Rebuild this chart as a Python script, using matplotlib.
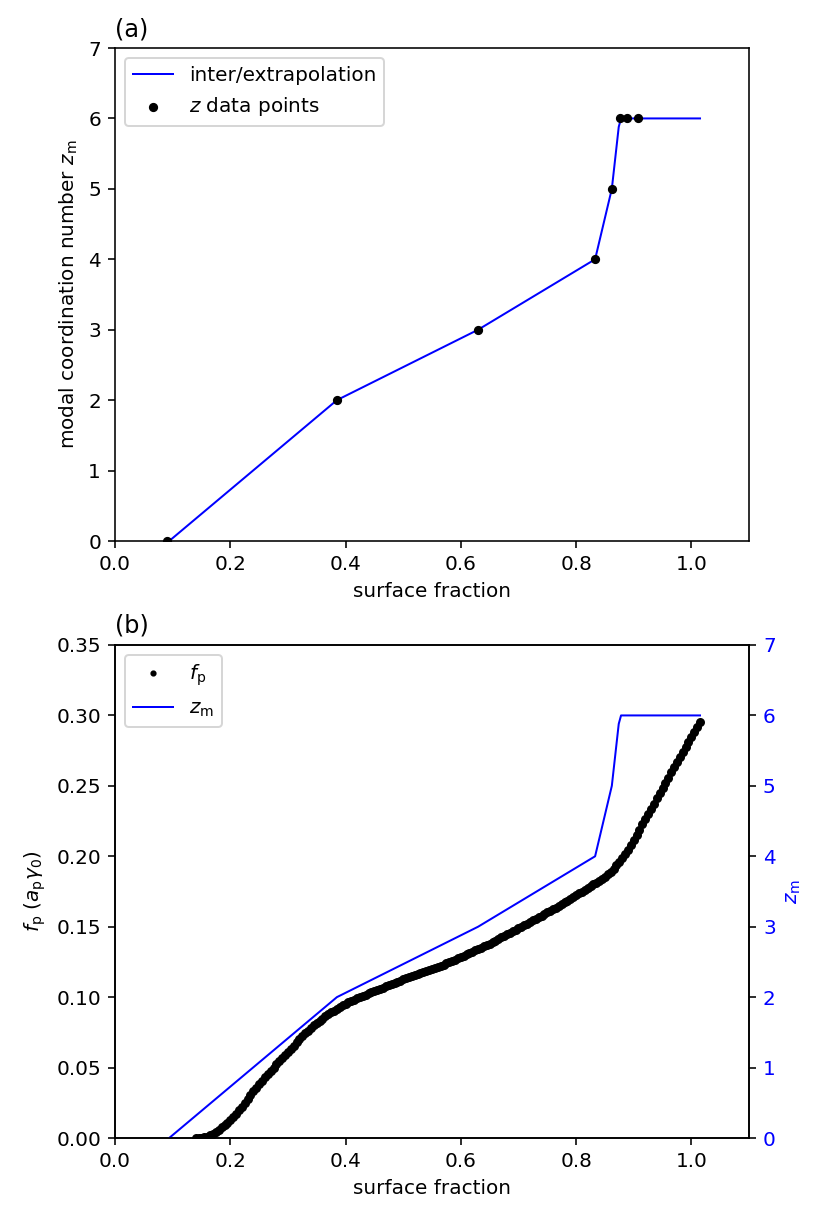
import numpy as np
import matplotlib
matplotlib.use("Agg")
import matplotlib.pyplot as plt

# ---- data ----
# modal coordination number data points (panel a)
z_points_x = [0.090, 0.385, 0.630, 0.833, 0.862, 0.876, 0.889, 0.907]
z_points_y = [0, 2, 3, 4, 5, 6, 6, 6]

# inter/extrapolation line vertices
zline_x = [0.094, 0.385, 0.630, 0.833, 0.862, 0.874, 0.878, 1.015]
zline_y = [0.0, 2.0, 3.0, 4.0, 5.0, 5.88, 6.0, 6.0]

# f_p values sampled from 0.14 to 1.015 in steps of 0.005
fp_start, fp_end = 0.14, 1.015
fp_values = [
    0.0000, 0.0000, 0.0001, 0.0004, 0.0010, 0.0019, 0.0031, 0.0046, 0.0060, 0.0075,
    0.0091, 0.0109, 0.0128, 0.0150, 0.0173, 0.0197, 0.0222, 0.0249, 0.0277, 0.0305,
    0.0332, 0.0357, 0.0382, 0.0406, 0.0430, 0.0454, 0.0477, 0.0500, 0.0522, 0.0545,
    0.0567, 0.0589, 0.0611, 0.0634, 0.0656, 0.0678, 0.0700, 0.0722, 0.0742, 0.0762,
    0.0781, 0.0799, 0.0816, 0.0832, 0.0848, 0.0863, 0.0877, 0.0891, 0.0905, 0.0918,
    0.0930, 0.0941, 0.0952, 0.0962, 0.0972, 0.0982, 0.0991, 0.1000, 0.1009, 0.1018,
    0.1027, 0.1035, 0.1044, 0.1052, 0.1060, 0.1068, 0.1077, 0.1085, 0.1093, 0.1101,
    0.1109, 0.1118, 0.1126, 0.1134, 0.1142, 0.1149, 0.1157, 0.1164, 0.1172, 0.1179,
    0.1186, 0.1193, 0.1200, 0.1207, 0.1215, 0.1223, 0.1231, 0.1239, 0.1247, 0.1256,
    0.1265, 0.1275, 0.1284, 0.1294, 0.1303, 0.1313, 0.1322, 0.1332, 0.1341, 0.1351,
    0.1361, 0.1370, 0.1380, 0.1391, 0.1402, 0.1413, 0.1424, 0.1435, 0.1446, 0.1457,
    0.1467, 0.1478, 0.1489, 0.1500, 0.1511, 0.1522, 0.1533, 0.1545, 0.1556, 0.1567,
    0.1579, 0.1590, 0.1602, 0.1613, 0.1625, 0.1636, 0.1648, 0.1660, 0.1672, 0.1685,
    0.1697, 0.1710, 0.1723, 0.1736, 0.1749, 0.1762, 0.1774, 0.1787, 0.1800, 0.1813,
    0.1826, 0.1840, 0.1855, 0.1872, 0.1891, 0.1912, 0.1936, 0.1961, 0.1988, 0.2017,
    0.2048, 0.2081, 0.2115, 0.2152, 0.2189, 0.2226, 0.2263, 0.2300, 0.2337, 0.2374,
    0.2411, 0.2448, 0.2485, 0.2522, 0.2559, 0.2595, 0.2631, 0.2667, 0.2703, 0.2739,
    0.2775, 0.2811, 0.2847, 0.2883, 0.2919, 0.2955,
]
fp_x = np.linspace(fp_start, fp_end, len(fp_values))

W, H, DPI = 822, 1217, 144
fig = plt.figure(figsize=(W / DPI, H / DPI), dpi=DPI)

# ---- panel (a) ----
ax1 = fig.add_axes([115 / W, 1 - 541 / H, 634 / W, 493 / H])
ax1.plot(zline_x, zline_y, color="blue", lw=1, label="inter/extrapolation")
ax1.scatter(z_points_x, z_points_y, s=13, color="black", zorder=3,
            label="$z$ data points")
ax1.set_xlim(0, 1.1)
ax1.set_ylim(0, 7)
ax1.set_xlabel("surface fraction")
ax1.set_ylabel("modal coordination number $z_{\\rm m}$")
ax1.set_title("(a)", loc="left")
ax1.legend(loc="upper left")

# ---- panel (b) ----
ax2 = fig.add_axes([115 / W, 1 - 1138 / H, 634 / W, 493 / H])
h1, = ax2.plot(fp_x, fp_values, ".", color="black", ms=7, label="$f_{\\rm p}$")
ax2.set_xlim(0, 1.1)
ax2.set_ylim(0, 0.35)
ax2.set_xlabel("surface fraction")
ax2.set_ylabel("$f_{\\rm p}$ $(a_{\\rm p}\\gamma_0)$")
ax2.set_title("(b)", loc="left")

ax2r = ax2.twinx()
h2, = ax2r.plot(zline_x, zline_y, color="blue", lw=1, label="$z_{\\rm m}$")
ax2r.set_ylim(0, 7)
ax2r.set_ylabel("$z_{\\rm m}$", color="blue")
ax2r.tick_params(axis="y", labelcolor="blue")
ax2r.legend(handles=[h1, h2], loc="upper left", markerscale=0.6)

fig.savefig("out.png", dpi=DPI)
